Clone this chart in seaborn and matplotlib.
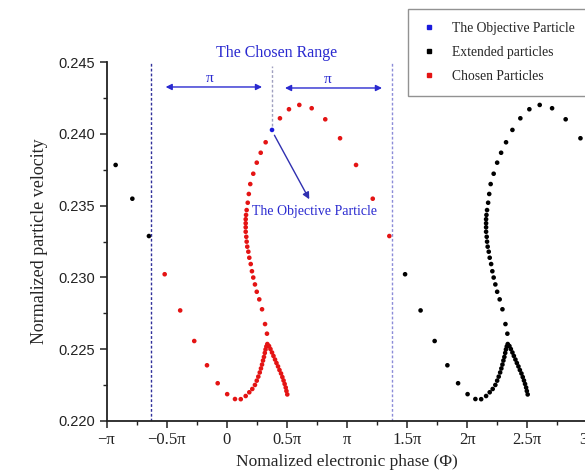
import numpy as np
import pandas as pd
import matplotlib
matplotlib.use("Agg")
import matplotlib.pyplot as plt
import seaborn as sns
from matplotlib.lines import Line2D

# ---- data (phase in units of pi) ----
chosen_phase = [
    -0.516, -0.387, -0.270, -0.164, -0.075, 0.004, 0.069, 0.117, 0.158, 0.188,
    0.213, 0.235, 0.250, 0.263, 0.275, 0.285, 0.294, 0.302, 0.310, 0.317,
    0.323, 0.330, 0.338,
    0.352, 0.364, 0.377, 0.389, 0.402, 0.414, 0.427, 0.439, 0.452, 0.463,
    0.473, 0.482, 0.491, 0.497, 0.504,
    0.335, 0.319, 0.294, 0.271, 0.250, 0.235, 0.221, 0.210, 0.200, 0.188,
    0.180, 0.171, 0.166, 0.163, 0.158, 0.158, 0.158, 0.158, 0.161, 0.166,
    0.175, 0.184, 0.196, 0.221, 0.250, 0.283, 0.324,
    0.443, 0.518, 0.604, 0.707, 0.820, 0.943, 1.076, 1.215, 1.353,
]
chosen_vel = [
    0.23022, 0.22770, 0.22557, 0.22388, 0.22263, 0.22187, 0.22153, 0.22152, 0.22174, 0.22200,
    0.22223, 0.22251, 0.22281, 0.22309, 0.22338, 0.22366, 0.22393, 0.22421, 0.22446, 0.22474,
    0.22498, 0.22519, 0.22536,
    0.22522, 0.22501, 0.22477, 0.22453, 0.22428, 0.22404, 0.22380, 0.22355, 0.22331, 0.22306,
    0.22282, 0.22258, 0.22233, 0.22209, 0.22185,
    0.22608, 0.22675, 0.22778, 0.22847, 0.22900, 0.22951, 0.22999, 0.23043, 0.23093, 0.23137,
    0.23179, 0.23214, 0.23249, 0.23283, 0.23318, 0.23349, 0.23377, 0.23405, 0.23435, 0.23469,
    0.23520, 0.23581, 0.23650, 0.23722, 0.23799, 0.23868, 0.23941,
    0.24108, 0.24171, 0.24201, 0.24178, 0.24101, 0.23969, 0.23783, 0.23548, 0.23288,
]
objective_phase = [0.377]
objective_vel = [0.24027]
period = 2.0  # one period = 2*pi

x_ticks = [-1.0, -0.5, 0.0, 0.5, 1.0, 1.5, 2.0, 2.5, 3.0]
x_ticklabels = ["\u2212\u03c0", "\u22120.5\u03c0", "0", "0.5\u03c0", "\u03c0",
                "1.5\u03c0", "2\u03c0", "2.5\u03c0", "3\u03c0"]
y_ticks = [0.220, 0.225, 0.230, 0.235, 0.240, 0.245]
y_ticklabels = ["0.220", "0.225", "0.230", "0.235", "0.240", "0.245"]

# extended particles = chosen + objective shifted by one period either way
all_phase = chosen_phase + objective_phase
all_vel = chosen_vel + objective_vel
ext_phase = [p + period for p in all_phase] + [p - period for p in all_phase]
ext_vel = all_vel + all_vel

labels = ["The Objective Particle", "Extended particles", "Chosen Particles"]
df = pd.DataFrame({
    "phase": objective_phase + ext_phase + chosen_phase,
    "vel": objective_vel + ext_vel + chosen_vel,
    "group": [labels[0]] * len(objective_phase) + [labels[1]] * len(ext_phase)
             + [labels[2]] * len(chosen_phase),
})

sns.set_theme(style="white")
plt.rcParams["font.family"] = ["Liberation Serif", "DejaVu Serif"]

fig = plt.figure(figsize=(5.85, 4.71), dpi=100)
ax = fig.add_axes([106.5 / 585, 50 / 471, (587.3 - 106.5) / 585, 359 / 471])

palette = {labels[0]: "#1a1adc", labels[1]: "#000000", labels[2]: "#e41414"}
sns.scatterplot(data=df, x="phase", y="vel", hue="group", palette=palette,
                hue_order=[labels[1], labels[2], labels[0]],
                s=11, linewidth=0, ax=ax, legend=False)

ax.set_xlim(-1.0, 3.0)
ax.set_ylim(0.220, 0.245)
ax.set_xticks(x_ticks)
ax.set_xticklabels(x_ticklabels, fontsize=12)
ax.set_yticks(y_ticks)
ax.set_yticklabels(y_ticklabels, fontsize=10.5, family=["Liberation Sans", "DejaVu Sans"])
ax.set_xticks(np.arange(-1.0, 3.01, 0.25), minor=True)
ax.set_yticks(np.arange(0.220, 0.2451, 0.0025), minor=True)
ax.tick_params(which="major", direction="out", length=5, width=1.1, colors="#222222",
               bottom=True, left=True, pad=3)
ax.tick_params(which="minor", direction="out", length=3, width=1.0, colors="#222222",
               bottom=True, left=True)
for s in ["top", "right"]:
    ax.spines[s].set_visible(False)
for s in ["left", "bottom"]:
    ax.spines[s].set_color("#222222")
    ax.spines[s].set_linewidth(1.3)

ax.set_xlabel("Nomalized electronic phase (\u03a6)", fontsize=12.5, labelpad=4)
ax.set_ylabel("Normalized particle velocity", fontsize=13, labelpad=8)

# ---- annotations ----
blue = "#2a2ad0"
obj_x, obj_y = objective_phase[0], objective_vel[0]
left_b = obj_x - 1.0
right_b = obj_x + 1.0
ax.axvline(left_b - 0.005, color="#30309a", lw=1.0, ls=(0, (2, 1.5)))
ax.axvline(right_b, color="#8c8cd8", lw=1.0, ls=(0, (2, 1.5)))
ax.plot([obj_x, obj_x], [obj_y + 0.0003, 0.2447], color="#a0a0c0", lw=1.0,
        ls=(0, (2, 1.5)))

arrow_kw = dict(arrowstyle="<|-|>", color=blue, lw=1.0, mutation_scale=9,
                shrinkA=0, shrinkB=0)
ax.annotate("", xy=(left_b + 0.115, 0.24326), xytext=(obj_x - 0.083, 0.24326),
            arrowprops=arrow_kw)
ax.annotate("", xy=(obj_x + 0.108, 0.24319), xytext=(right_b - 0.085, 0.24319),
            arrowprops=arrow_kw)
ax.text((left_b + obj_x) / 2 - 0.02, 0.24385, "\u03c0", color=blue, fontsize=11,
        ha="center", va="center")
ax.text((obj_x + right_b) / 2 - 0.04, 0.24375, "\u03c0", color=blue, fontsize=11,
        ha="center", va="center")
ax.text(obj_x + 0.04, 0.2456, "The Chosen Range", color=blue, fontsize=11.5,
        ha="center", va="center", clip_on=False)
ax.annotate("", xy=(0.687, 0.23544), xytext=(obj_x + 0.02, 0.2399),
            arrowprops=dict(arrowstyle="-|>", color="#3030b0", lw=1.0,
                            mutation_scale=10, shrinkA=0, shrinkB=0))
ax.text(0.730, 0.23462, "The Objective Particle", color=blue, fontsize=10,
        ha="center", va="center")

# ---- legend ----
handles = [Line2D([], [], ls="none", marker="s", ms=3, color=palette[l]) for l in labels]
leg = fig.legend(handles, labels, loc="upper left", bbox_to_anchor=(408 / 585, 1 - 9 / 471),
                 frameon=True, fontsize=9.8, borderaxespad=0, handlelength=1.2,
                 handletextpad=1.1, labelspacing=0.8, borderpad=0.95, fancybox=False)
leg.get_frame().set_edgecolor("#777777")
leg.get_frame().set_linewidth(1.0)

fig.savefig("out.png", dpi=100, facecolor="white")
